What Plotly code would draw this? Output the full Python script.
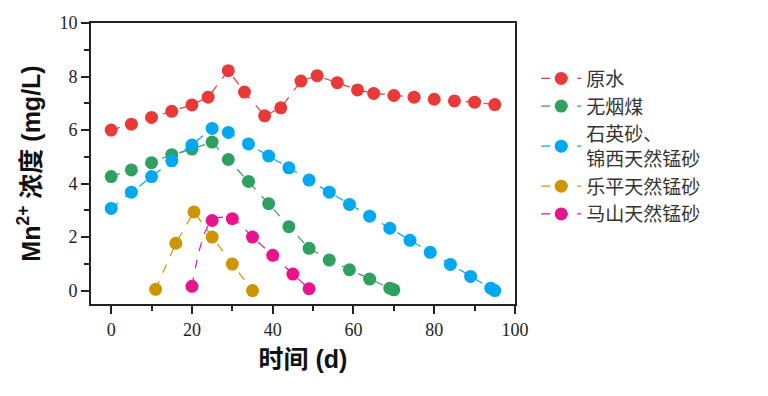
import plotly.graph_objects as go

# Data
raw_x = [0, 5, 10, 15, 20, 24, 29, 33, 38, 42, 47, 51, 56, 61, 65, 70, 75, 80, 85, 90, 95]
raw_y = [6.0, 6.22, 6.47, 6.70, 6.94, 7.23, 8.22, 7.42, 6.53, 6.83, 7.83, 8.03, 7.77, 7.50, 7.37, 7.29, 7.23, 7.15, 7.09, 7.04, 6.95]

coal_x = [0, 5, 10, 15, 20, 25, 29, 34, 39, 44, 49, 54, 59, 64, 69, 70]
coal_y = [4.26, 4.51, 4.78, 5.08, 5.29, 5.55, 4.90, 4.08, 3.25, 2.39, 1.58, 1.14, 0.78, 0.43, 0.09, 0.03]

quartz_x = [0, 5, 10, 15, 20, 25, 29, 34, 39, 44, 49, 54, 59, 64, 69, 74, 79, 84, 89, 94, 95]
quartz_y = [3.07, 3.68, 4.26, 4.85, 5.44, 6.06, 5.91, 5.48, 5.03, 4.59, 4.13, 3.68, 3.22, 2.78, 2.33, 1.88, 1.43, 0.98, 0.53, 0.09, 0.0]

leping_x = [11, 16, 20.5, 25, 30, 35]
leping_y = [0.05, 1.77, 2.94, 2.0, 0.99, 0.0]

mashan_x = [20, 25, 30, 35, 40, 45, 49]
mashan_y = [0.16, 2.62, 2.69, 2.0, 1.32, 0.62, 0.07]

names = ["原水", "无烟煤", "石英砂、<br>锦西天然锰砂", "乐平天然锰砂", "马山天然锰砂"]
colors = ["#E93A3A", "#2FA060", "#00A8F0", "#CC9600", "#E8148C"]
shapes = ["linear", "linear", "linear", "linear", "spline"]

series = [(raw_x, raw_y), (coal_x, coal_y), (quartz_x, quartz_y), (leping_x, leping_y), (mashan_x, mashan_y)]

fig = go.Figure()
for (xs, ys), name, c, sh in zip(series, names, colors, shapes):
    fig.add_trace(go.Scatter(
        x=xs, y=ys, name=name, mode="lines+markers",
        line=dict(color=c, width=1.2, dash="dash", shape=sh, smoothing=1.0),
        marker=dict(color=c, size=13, line=dict(width=0)),
    ))

tick_font = dict(family="Liberation Serif, Times New Roman, serif", size=18, color="#222")
title_font = dict(family="Liberation Sans, Arial, Noto Sans CJK SC", size=25, color="#111")

fig.update_layout(
    width=768, height=396,
    paper_bgcolor="white", plot_bgcolor="white",
    margin=dict(l=83, r=261, t=15, b=100),
    showlegend=True,
    legend=dict(
        x=1.05, y=0.87, xanchor="left", yanchor="top",
        font=dict(family="Noto Sans CJK SC", size=19, color="#333"),
        bgcolor="rgba(0,0,0,0)", tracegroupgap=0, itemwidth=40,
    ),
    xaxis=dict(
        range=[-5, 100], tickvals=[0, 20, 40, 60, 80, 100], automargin=False,
        ticks="outside", ticklen=8, tickwidth=1.5, tickcolor="#222",
        minor=dict(tickvals=[10, 30, 50, 70, 90], ticks="outside", ticklen=5, tickwidth=1.5, tickcolor="#222"),
        showline=True, linecolor="#222", linewidth=2, mirror=True,
        showgrid=False, zeroline=False, tickfont=tick_font,
        title=dict(text="<b>时间 (d)</b>", font=title_font, standoff=12),
    ),
    yaxis=dict(
        range=[-0.5, 10], tickvals=[0, 2, 4, 6, 8, 10], automargin=False,
        ticks="outside", ticklen=8, tickwidth=1.5, tickcolor="#222",
        minor=dict(tickvals=[1, 3, 5, 7, 9], ticks="outside", ticklen=5, tickwidth=1.5, tickcolor="#222"),
        showline=True, linecolor="#222", linewidth=2, mirror=True,
        showgrid=False, zeroline=False, tickfont=tick_font,
        title=dict(text="<b>Mn<sup>2+</sup> 浓度 (mg/L)</b>", font=title_font, standoff=12),
    ),
)

fig.write_html("out.html")
